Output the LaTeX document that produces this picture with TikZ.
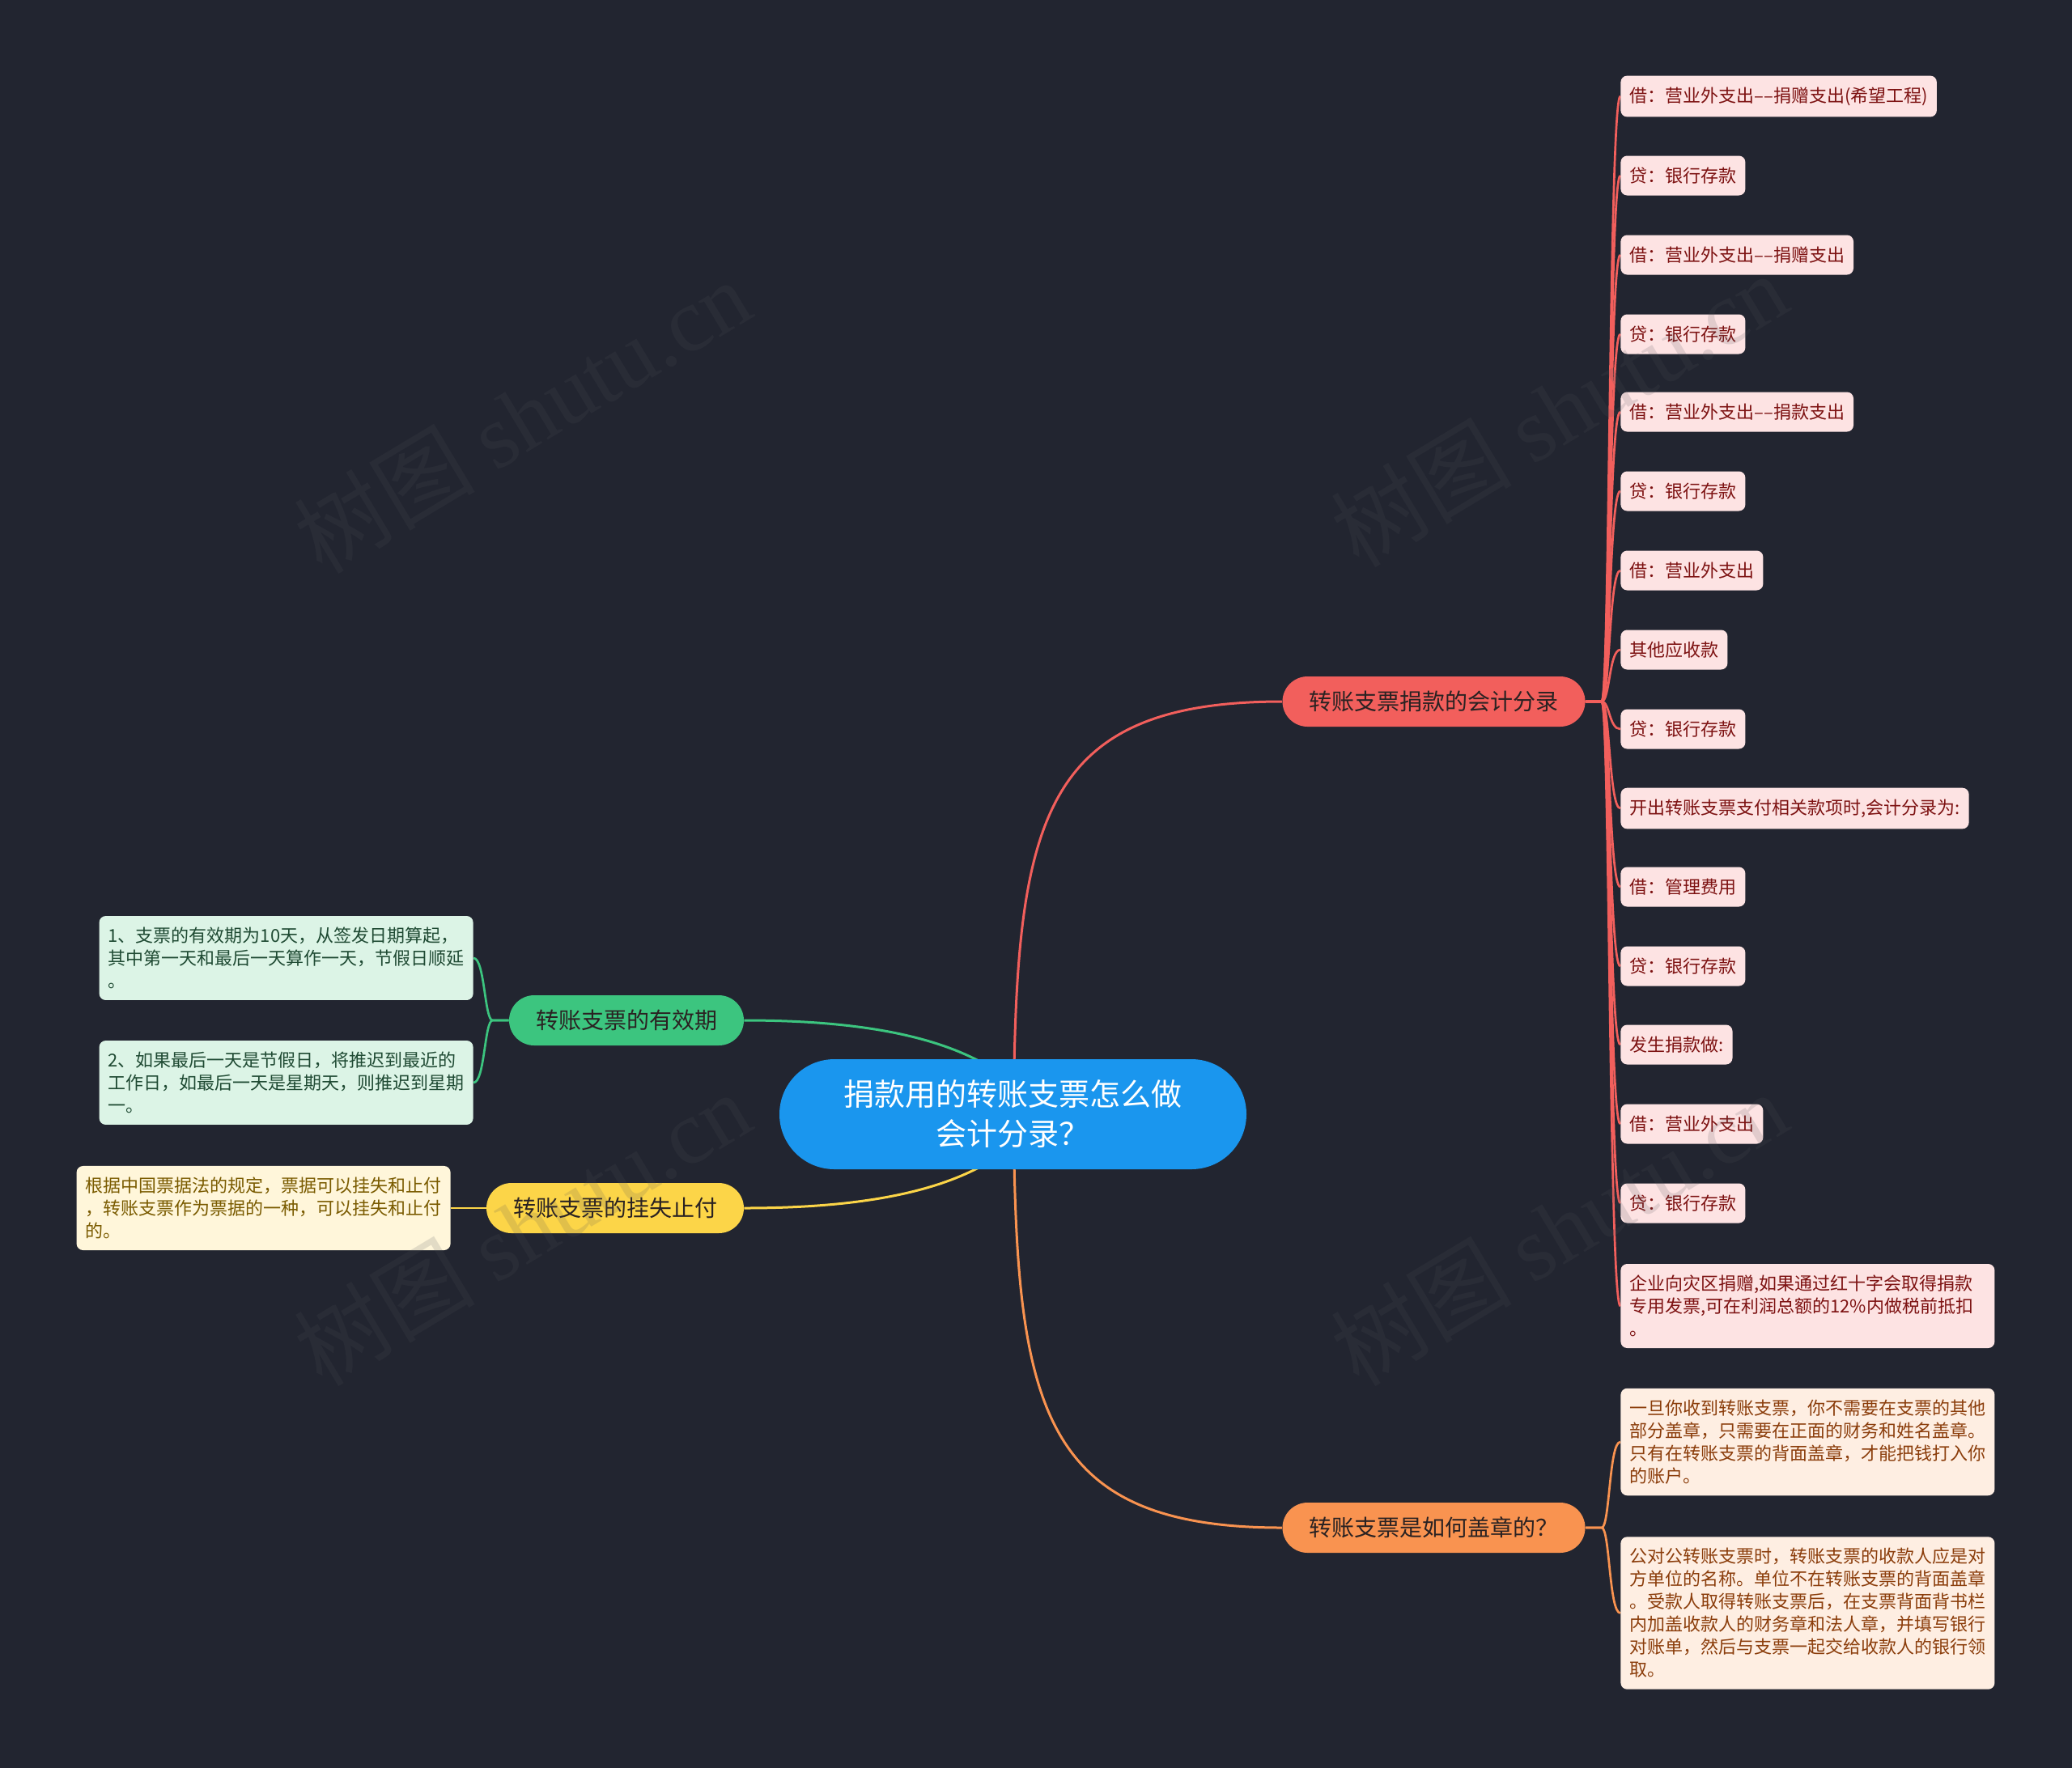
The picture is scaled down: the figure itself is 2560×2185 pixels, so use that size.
\documentclass[tikz,border=0pt]{standalone}
\usepackage{fontspec}
\setmainfont{Noto Sans CJK SC}
\newfontfamily\wmfont{Liberation Serif}
\usetikzlibrary{calc}
\pgfdeclarelayer{back}
\pgfdeclarelayer{bg}
\pgfsetlayers{back,bg,main}
\definecolor{bgc}{HTML}{222530}
\definecolor{rootc}{HTML}{1A96EE}
\definecolor{redc}{HTML}{F25F5C}
\definecolor{redleaf}{HTML}{FDE3E3}
\definecolor{redtext}{HTML}{7D1212}
\definecolor{orc}{HTML}{F99350}
\definecolor{orleaf}{HTML}{FEEEE2}
\definecolor{ortext}{HTML}{8B3D0B}
\definecolor{grc}{HTML}{3CC57F}
\definecolor{grleaf}{HTML}{DCF4E6}
\definecolor{grtext}{HTML}{1F4A33}
\definecolor{yec}{HTML}{FCD548}
\definecolor{yeleaf}{HTML}{FFF6DA}
\definecolor{yetext}{HTML}{7A5B00}
\definecolor{lvtext}{HTML}{2A2222}
\definecolor{wmc}{RGB}{80,82,90}
\begin{document}
\begin{tikzpicture}[x=0.5pt,y=-0.5pt,
  rootbox/.style={fill=rootc,text=white,rounded corners=34pt,minimum width=288.5pt,minimum height=68pt,align=center,font=\fontsize{19pt}{24.5pt}\selectfont,inner sep=0pt},
  lvbox/.style={rounded corners=15.5pt,minimum height=31pt,inner xsep=16.5pt,inner ysep=0pt,text=lvtext,font=\fontsize{14pt}{17pt}\selectfont},
  leaf/.style={rounded corners=4pt,inner xsep=5.5pt,inner ysep=7pt,minimum height=24.5pt,align=left,font=\fontsize{11pt}{14pt}\selectfont},
  rleaf/.style={leaf,fill=redleaf,text=redtext,anchor=west},
  oleaf/.style={leaf,fill=orleaf,text=ortext,anchor=west,text width=220pt},
  gleaf/.style={leaf,fill=grleaf,text=grtext,anchor=east,text width=220pt},
  yleaf/.style={leaf,fill=yeleaf,text=yetext,anchor=east,text width=220pt},
  mainline/.style={line width=1.5pt},
  leafline/.style={line width=1.35pt},
  wmark/.style={text=wmc,opacity=0.16,font=\fontsize{56pt}{60pt}\selectfont,rotate=31}
]
\begin{pgfonlayer}{back}
\fill[bgc] (0,0) rectangle (2560,2185);
\end{pgfonlayer}
\useasboundingbox (0,0) rectangle (2560,2185);

% central and first level nodes
\node[rootbox] (root) at (1251.5,1377) {捐款用的转账支票怎么做\\会计分录？};
\node[lvbox,fill=redc] (r) at (1771.5,867) {转账支票捐款的会计分录};
\node[lvbox,fill=orc] (o) at (1771.5,1888) {转账支票是如何盖章的？};
\node[lvbox,fill=grc] (g) at (774,1261) {转账支票的有效期};
\node[lvbox,fill=yec] (y) at (760,1493) {转账支票的挂失止付};

% red leaves
\node[rleaf] (a1) at (2002,119) {借：营业外支出––捐赠支出(希望工程)};
\node[rleaf] (a2) at (2002,217) {贷：银行存款};
\node[rleaf] (a3) at (2002,315) {借：营业外支出––捐赠支出};
\node[rleaf] (a4) at (2002,413) {贷：银行存款};
\node[rleaf] (a5) at (2002,509) {借：营业外支出––捐款支出};
\node[rleaf] (a6) at (2002,607) {贷：银行存款};
\node[rleaf] (a7) at (2002,705) {借：营业外支出};
\node[rleaf] (a8) at (2002,803) {其他应收款};
\node[rleaf] (a9) at (2002,901) {贷：银行存款};
\node[rleaf] (a10) at (2002,999) {开出转账支票支付相关款项时,会计分录为:};
\node[rleaf] (a11) at (2002,1096) {借：管理费用};
\node[rleaf] (a12) at (2002,1194) {贷：银行存款};
\node[rleaf] (a13) at (2002,1291) {发生捐款做:};
\node[rleaf] (a14) at (2002,1389) {借：营业外支出};
\node[rleaf] (a15) at (2002,1487) {贷：银行存款};
\node[rleaf,text width=220pt] (a16) at (2002,1614) {企业向灾区捐赠,如果通过红十字会取得捐款\\专用发票,可在利润总额的12\%内做税前抵扣\\。};

% orange leaves
\node[oleaf] (b1) at (2002,1782) {一旦你收到转账支票，你不需要在支票的其他\\部分盖章，只需要在正面的财务和姓名盖章。\\只有在转账支票的背面盖章，才能把钱打入你\\的账户。};
\node[oleaf] (b2) at (2002,1993.5) {公对公转账支票时，转账支票的收款人应是对\\方单位的名称。单位不在转账支票的背面盖章\\。受款人取得转账支票后，在支票背面背书栏\\内加盖收款人的财务章和法人章，并填写银行\\对账单，然后与支票一起交给收款人的银行领\\取。};

% green leaves
\node[gleaf] (c1) at (585,1184) {1、支票的有效期为10天，从签发日期算起，\\其中第一天和最后一天算作一天，节假日顺延\\。};
\node[gleaf] (c2) at (585,1338) {2、如果最后一天是节假日，将推迟到最近的\\工作日，如最后一天是星期天，则推迟到星期\\一。};

% yellow leaf
\node[yleaf] (d1) at (557,1493) {根据中国票据法的规定，票据可以挂失和止付\\，转账支票作为票据的一种，可以挂失和止付\\的。};

\coordinate (gend) at (1225,1320);
\coordinate (yend) at (1225,1434);
\coordinate (rstart) at (1253,1320);
\coordinate (ostart) at (1253,1434);

\begin{pgfonlayer}{bg}
\draw[mainline,redc] (rstart) .. controls +(6,-320) and +(-284,0) .. (r.west);
\draw[mainline,orc] (ostart) .. controls +(6,320) and +(-284,0) .. (o.west);
\draw[mainline,grc] (g.east) .. controls +(141,0) and +(-65,-40) .. (gend);
\draw[mainline,yec] (y.east) .. controls +(141,0) and +(-65,40) .. (yend);
\foreach \i in {1,...,16}
  \draw[leafline,redc] (r.east) -- ++(20,0) .. controls +(10,0) and +(-14,0) .. (a\i.west);
\foreach \i in {1,2}
  \draw[leafline,orc] (o.east) -- ++(20,0) .. controls +(10,0) and +(-14,0) .. (b\i.west);
\foreach \i in {1,2}
  \draw[leafline,grc] (g.west) -- ++(-20,0) .. controls +(-10,0) and +(14,0) .. (c\i.east);
\draw[leafline,yec] (y.west) -- (d1.east);
\end{pgfonlayer}

% watermarks
\node[wmark] (w1) at (645,514) {树图 {\wmfont shutu.cn}};
\node[wmark] (w2) at (1926,506) {树图 {\wmfont shutu.cn}};
\node[wmark] (w3) at (645,1518) {树图 {\wmfont shutu.cn}};
\node[wmark] (w4) at (1926,1518) {树图 {\wmfont shutu.cn}};
\end{tikzpicture}
\end{document}
